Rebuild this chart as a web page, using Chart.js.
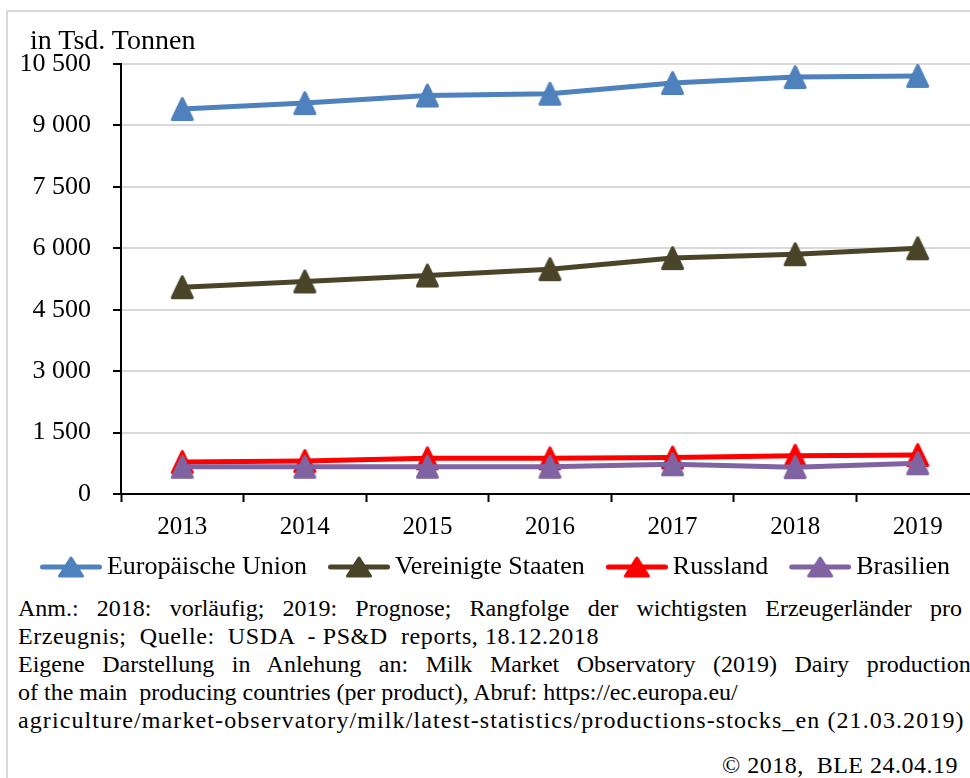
<!DOCTYPE html>
<html lang="de">
<head>
<meta charset="UTF-8">
<title>Käseproduktion</title>
<script src="https://cdn.jsdelivr.net/npm/chart.js"></script>
<style>
  body {
    margin: 0;
    width: 970px;
    height: 778px;
    overflow: hidden;
    background: #fff;
    font-family: 'Liberation Serif', 'Times New Roman', serif;
    color: #000;
  }
  #frame {
    position: absolute;
    left: 6px;
    top: 10px;
    width: 1000px;
    height: 800px;
    border-left: 2px solid #d9d9d9;
    border-top: 2px solid #d9d9d9;
  }
  #cheese {
    position: absolute;
    left: 0;
    top: 0;
  }
  #unit {
    position: absolute;
    left: 30px;
    top: 25px;
    font-size: 28px;
    line-height: 30px;
    white-space: nowrap;
  }
  .note {
    position: absolute;
    left: 18px;
    font-size: 24px;
    line-height: 28px;
    white-space: pre;
  }
  .just {
    text-align: justify;
    text-align-last: justify;
  }
</style>
</head>
<body>
  <div id="frame"></div>
  <canvas id="cheese" width="1000" height="590"></canvas>
  <div id="unit">in Tsd. Tonnen</div>

  <div class="note just" style="top:594px; width:944px; white-space:nowrap;">Anm.: 2018: vorläufig; 2019: Prognose; Rangfolge der wichtigsten Erzeugerländer pro</div>
  <div class="note" style="top:622px; letter-spacing:0.6px;">Erzeugnis;  Quelle:  USDA  - PS&amp;D  reports, 18.12.2018</div>
  <div class="note just" style="top:650px; width:962px; white-space:nowrap;">Eigene Darstellung in Anlehung an: Milk Market Observatory (2019) Dairy productions</div>
  <div class="note" style="top:678px;">of the main  producing countries (per product), Abruf: https://ec.europa.eu/</div>
  <div class="note" style="top:706px; letter-spacing:1.1px;">agriculture/market-observatory/milk/latest-statistics/productions-stocks_en (21.03.2019)</div>
  <div class="note" style="top:751px; left:auto; right:12px; letter-spacing:0.5px;">© 2018,  BLE 24.04.19</div>

<script>
  // Käse, in Tsd. Tonnen (USDA PS&D)
  const years = ['2013', '2014', '2015', '2016', '2017', '2018', '2019'];
  const euValues = [9400, 9545, 9730, 9775, 10035, 10180, 10210];
  const usValues = [5050, 5190, 5335, 5490, 5760, 5855, 6000];
  const ruValues = [780, 805, 870, 870, 890, 935, 950];
  const brValues = [665, 665, 665, 665, 725, 655, 750];

  const seriesNames = ['Europäische Union', 'Vereinigte Staaten', 'Russland', 'Brasilien'];
  const seriesColors = ['#4f81bd', '#4a4529', '#ff0000', '#8064a2'];

  const yMax = 10500;
  const yStep = 1500;

  const fontFamily = "'Liberation Serif', 'Times New Roman', serif";

  function triangleMarker(color) {
    const c = document.createElement('canvas');
    c.width = 25;
    c.height = 26;
    const ctx = c.getContext('2d');
    ctx.fillStyle = color;
    ctx.strokeStyle = color;
    ctx.lineWidth = 3;
    ctx.lineJoin = 'round';
    ctx.beginPath();
    ctx.moveTo(12.5, 2.5);
    ctx.lineTo(22.5, 23.5);
    ctx.lineTo(2.5, 23.5);
    ctx.closePath();
    ctx.fill();
    ctx.stroke();
    return c;
  }

  // line + triangle, with empty space on the left so the items spread out
  function legendSample(color) {
    const c = document.createElement('canvas');
    c.width = 81;
    c.height = 26;
    const ctx = c.getContext('2d');
    ctx.fillStyle = color;
    ctx.strokeStyle = color;
    ctx.lineWidth = 5;
    ctx.lineCap = 'round';
    ctx.beginPath();
    ctx.moveTo(21.5, 13);
    ctx.lineTo(78.5, 13);
    ctx.stroke();
    ctx.lineWidth = 3;
    ctx.lineJoin = 'round';
    ctx.beginPath();
    ctx.moveTo(50, 4);
    ctx.lineTo(61.5, 22);
    ctx.lineTo(38.5, 22);
    ctx.closePath();
    ctx.fill();
    ctx.stroke();
    return c;
  }

  function spaced(v) {
    return String(v).replace(/\B(?=(\d{3})+(?!\d))/g, ' ');
  }

  const allValues = [euValues, usValues, ruValues, brValues];
  const drawOrder = [1, 2, 3, 0]; // Brasilien liegt über Russland
  const markers = seriesColors.map(triangleMarker);
  const samples = seriesColors.map(legendSample);

  const datasets = seriesNames.map((name, i) => ({
    label: name,
    data: allValues[i],
    borderColor: seriesColors[i],
    backgroundColor: seriesColors[i],
    borderWidth: 5,
    borderJoinStyle: 'round',
    borderCapStyle: 'round',
    tension: 0,
    pointStyle: markers[i],
    pointRadius: 12,
    order: drawOrder[i]
  }));

  new Chart(document.getElementById('cheese'), {
    type: 'line',
    data: { labels: years, datasets: datasets },
    options: {
      responsive: false,
      animation: false,
      events: [],
      layout: { padding: { left: 0, right: 21, top: 64, bottom: 0 } },
      plugins: {
        title: { display: false },
        legend: {
          position: 'bottom',
          labels: {
            usePointStyle: true,
            pointStyleWidth: 65,
            padding: 10,
            color: '#000',
            font: { family: fontFamily, size: 26 },
            generateLabels: chart => chart.data.datasets.map((ds, i) => ({
              text: ds.label,
              pointStyle: samples[i],
              fillStyle: ds.borderColor,
              strokeStyle: ds.borderColor,
              lineWidth: 0,
              hidden: false,
              datasetIndex: i,
              fontColor: '#000'
            }))
          }
        },
        tooltip: { enabled: false }
      },
      scales: {
        x: {
          offset: true,
          grid: { offset: true, drawOnChartArea: false, tickLength: 8, tickColor: '#000', tickWidth: 2 },
          border: { color: '#000', width: 2 },
          ticks: { color: '#000', font: { family: fontFamily, size: 25 }, padding: 10, maxRotation: 0 },
          afterFit: s => { s.height = 50; }
        },
        y: {
          min: 0,
          max: yMax,
          grid: { color: '#d9d9d9', lineWidth: 2, tickLength: 8, tickColor: '#000', tickWidth: 2 },
          border: { color: '#000', width: 2 },
          ticks: {
            stepSize: yStep,
            color: '#000',
            font: { family: fontFamily, size: 26 },
            padding: 22,
            callback: v => spaced(v)
          },
          afterFit: s => { s.width = 121; }
        }
      }
    }
  });
</script>
</body>
</html>
